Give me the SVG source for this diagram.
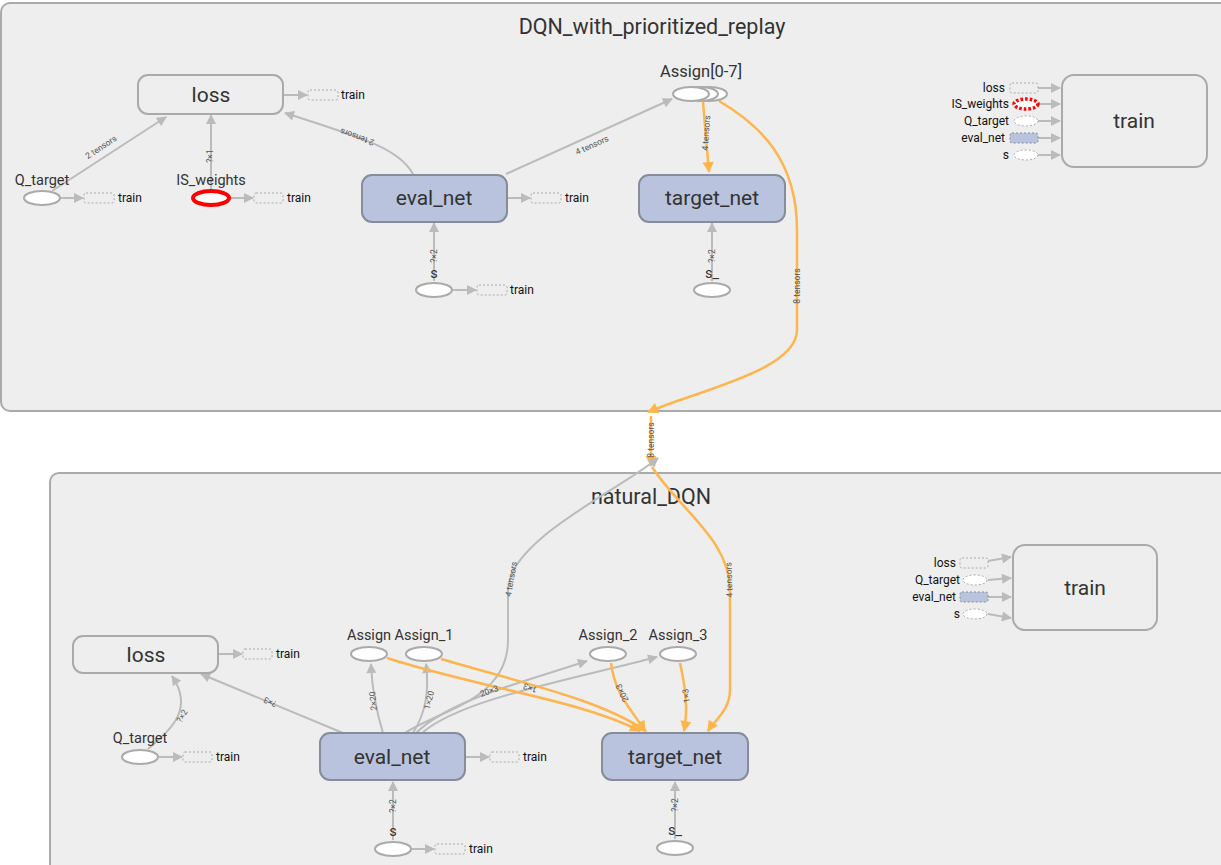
<svg xmlns="http://www.w3.org/2000/svg" width="1221" height="865" viewBox="0 0 1221 865">
<defs>
<style>
text{font-family:Roboto,"Liberation Sans",sans-serif;fill:#333}
.title{font-size:21.5px;text-anchor:middle}
.big{font-size:21px;text-anchor:middle;dominant-baseline:central}
.lbl{font-size:14.5px;text-anchor:middle}
.tr{font-size:12px;fill:#111;dominant-baseline:central}
.in{font-size:12px;fill:#111;text-anchor:end;dominant-baseline:central}
.el{font-size:8.5px;fill:#555;text-anchor:middle;dominant-baseline:central}
.cont{fill:#eee;stroke:#aaa;stroke-width:2}
.meta{fill:#eee;stroke:#aaa;stroke-width:2}
.ns{fill:#b9c3dd;stroke:#868c9a;stroke-width:2}
.op{fill:#fff;stroke:#aaa;stroke-width:2}
.dash{fill:#eee;stroke:#aaa;stroke-width:1;stroke-dasharray:2,2}
.dashw{fill:#fff;stroke:#aaa;stroke-width:1;stroke-dasharray:2,2}
.dashb{fill:#b9c3dd;stroke:#868c9a;stroke-width:1;stroke-dasharray:2,2}
.e{fill:none;stroke:#bbb;stroke-width:2;marker-end:url(#ag)}
.o{fill:none;stroke:#fdb54e;stroke-width:2.5;marker-end:url(#ao)}
</style>
<marker id="ag" viewBox="0 0 10 10" refX="9" refY="5" markerWidth="11" markerHeight="10" markerUnits="userSpaceOnUse" orient="auto"><path d="M0,0 L10,5 L0,10 z" fill="#bbb"/></marker>
<marker id="ao" viewBox="0 0 10 10" refX="9" refY="5" markerWidth="12" markerHeight="11" markerUnits="userSpaceOnUse" orient="auto"><path d="M0,0 L10,5 L0,10 z" fill="#fdb54e"/></marker>
</defs>
<rect width="1221" height="865" fill="#fff"/>

<g id="DQN_with_prioritized_replay">
<rect class="cont" x="1" y="3" width="1240" height="408" rx="9"/>
<text class="title" x="652" y="34">DQN_with_prioritized_replay</text>
</g>
<g id="natural_DQN">
<rect class="cont" x="50" y="473" width="1200" height="420" rx="9"/>
<text class="title" x="651" y="504">natural_DQN</text>
</g>

<g id="connectors">
<path class="e" d="M52,191 L166,117"/>
<path class="e" d="M211,189 L211,115"/>
<path class="e" d="M413,174 C400,150 370,140 285,113"/>
<path class="e" d="M506,174 L672,99"/>
<path class="e" d="M434,281 L434,223"/>
<path class="e" d="M712,281 L712,223"/>
<path class="e" d="M61,198 L83,198"/>
<path class="e" d="M230,198 L253,198"/>
<path class="e" d="M284,95 L307,95"/>
<path class="e" d="M507,198 L530,198"/>
<path class="e" d="M453,290 L476,290"/>
<path class="o" d="M703,102 L709,172"/>
<path class="o" d="M719,101 C760,125 797,160 797,230 L797,330 C797,370 700,390 648,412"/>
<path class="o" d="M651,416 L651,466"/>
<path class="e" d="M1038,88 L1060,88"/>
<path class="e" d="M1038,104 L1060,104"/>
<path class="e" d="M1038,121 L1060,121"/>
<path class="e" d="M1038,138 L1060,138"/>
<path class="e" d="M1038,155 L1060,155"/>
<path class="e" d="M219,654 L242,654"/>
<path class="e" d="M159,757 L182,757"/>
<path class="e" d="M466,757 L489,757"/>
<path class="e" d="M412,849 L434,849"/>
<path class="e" d="M148,749 C170,730 195,710 172,676"/>
<path class="e" d="M343,733 L201,674"/>
<path class="e" d="M393,840 L393,782"/>
<path class="e" d="M675,839 L675,782"/>
<path class="e" d="M383,733 C376,710 372,690 371,664"/>
<path class="e" d="M413,733 C424,716 430,695 426,664"/>
<path class="e" d="M416,733 C450,700 520,683 587,661"/>
<path class="e" d="M422,733 C460,700 560,682 657,657"/>
<path class="e" d="M405,733 C440,710 508,700 508,640 L508,590 C508,540 620,490 658,458"/>
<path class="o" d="M387,658 C480,688 580,700 640,731"/>
<path class="o" d="M441,659 C530,685 600,700 646,731"/>
<path class="o" d="M611,663 C615,695 632,710 645,731"/>
<path class="o" d="M680,663 C686,690 688,710 684,731"/>
<path class="o" d="M652,467 C680,510 730,540 730,590 L730,690 C730,710 715,720 708,731"/>
<path class="e" d="M988,561 L1011,557"/>
<path class="e" d="M988,580 L1011,578"/>
<path class="e" d="M988,597 L1011,597"/>
<path class="e" d="M988,614 L1011,618"/>
<text class="el" transform="translate(101,147) rotate(-33)">2 tensors</text>
<text class="el" transform="translate(210,156) rotate(-90)">?×1</text>
<text class="el" transform="translate(357,137) rotate(200)">2 tensors</text>
<text class="el" transform="translate(592,145) rotate(-24)">4 tensors</text>
<text class="el" transform="translate(706,133) rotate(-86)">4 tensors</text>
<text class="el" transform="translate(434,256) rotate(-90)">?×2</text>
<text class="el" transform="translate(712,256) rotate(-90)">?×2</text>
<text class="el" transform="translate(797,286) rotate(-90)">8 tensors</text>
<text class="el" transform="translate(651,440) rotate(-90)">8 tensors</text>
<text class="el" transform="translate(182,716) rotate(-60)">?×2</text>
<text class="el" transform="translate(270,702) rotate(203)">?×3</text>
<text class="el" transform="translate(373,701) rotate(-95)">2×20</text>
<text class="el" transform="translate(429,700) rotate(-75)">1×20</text>
<text class="el" transform="translate(393,806) rotate(-90)">?×2</text>
<text class="el" transform="translate(675,805) rotate(-90)">?×2</text>
<text class="el" transform="translate(489,691) rotate(-20)">20×3</text>
<text class="el" transform="translate(530,688) rotate(200)">1×3</text>
<text class="el" transform="translate(622,693) rotate(-115)">20×3</text>
<text class="el" transform="translate(686,696) rotate(-98)">1×3</text>
<text class="el" transform="translate(511,579) rotate(-80)">4 tensors</text>
<text class="el" transform="translate(729,580) rotate(-92)">4 tensors</text>
</g>

<g id="top_loss">
<rect class="meta" x="138" y="75" width="145" height="39" rx="10"/>
<text class="big" x="211" y="95">loss</text>
<rect class="dash" x="308" y="90" width="30" height="10" rx="2"/>
<text class="tr" x="341" y="95">train</text>
</g>
<g id="top_Q_target">
<ellipse class="op" cx="42" cy="198" rx="18" ry="7"/>
<text class="lbl" x="42" y="185">Q_target</text>
<rect class="dash" x="84" y="193" width="30" height="10" rx="2"/>
<text class="tr" x="118" y="198">train</text>
</g>
<g id="top_IS_weights">
<ellipse cx="211" cy="198" rx="18" ry="7" fill="#fff" stroke="#f00" stroke-width="4"/>
<text class="lbl" x="211" y="185">IS_weights</text>
<rect class="dash" x="254" y="193" width="29" height="10" rx="2"/>
<text class="tr" x="287" y="198">train</text>
</g>
<g id="top_eval_net">
<rect class="ns" x="362" y="175" width="145" height="47" rx="10"/>
<text class="big" x="434" y="198">eval_net</text>
<rect class="dash" x="531" y="193" width="30" height="10" rx="2"/>
<text class="tr" x="565" y="198">train</text>
</g>
<g id="top_s">
<ellipse class="op" cx="434" cy="290" rx="18" ry="7"/>
<text class="lbl" x="434" y="278">s</text>
<rect class="dash" x="477" y="285" width="30" height="10" rx="2"/>
<text class="tr" x="510" y="290">train</text>
</g>
<g id="top_Assign">
<ellipse class="op" cx="709" cy="94" rx="18" ry="7"/>
<ellipse class="op" cx="700" cy="94" rx="18" ry="7"/>
<ellipse class="op" cx="691" cy="94" rx="18" ry="7"/>
<text class="lbl" x="701" y="77" style="font-size:16.5px">Assign[0-7]</text>
</g>
<g id="top_target_net">
<rect class="ns" x="639" y="175" width="146" height="47" rx="10"/>
<text class="big" x="712" y="198">target_net</text>
</g>
<g id="top_s_">
<ellipse class="op" cx="712" cy="290" rx="18" ry="7"/>
<text class="lbl" x="712" y="278">s_</text>
</g>
<g id="top_train">
<rect class="meta" x="1062" y="75" width="145" height="92" rx="12"/>
<text class="big" x="1134" y="121">train</text>
<text class="in" x="1005" y="88">loss</text>
<rect class="dash" x="1010" y="83" width="28" height="10" rx="2"/>
<text class="in" x="1009" y="104">IS_weights</text>
<ellipse cx="1026" cy="104" rx="12" ry="5" fill="#fff" stroke="#f00" stroke-width="3.5" stroke-dasharray="2.5,2"/>
<text class="in" x="1009" y="121">Q_target</text>
<ellipse class="dashw" cx="1026" cy="121" rx="12" ry="5"/>
<text class="in" x="1005" y="138">eval_net</text>
<rect class="dashb" x="1010" y="133" width="28" height="10" rx="2"/>
<text class="in" x="1009" y="155">s</text>
<ellipse class="dashw" cx="1026" cy="155" rx="12" ry="5"/>
</g>

<g id="bot_loss">
<rect class="meta" x="73" y="636" width="145" height="37" rx="10"/>
<text class="big" x="146" y="655">loss</text>
<rect class="dash" x="243" y="649" width="29" height="10" rx="2"/>
<text class="tr" x="276" y="654">train</text>
</g>
<g id="bot_Q_target">
<ellipse class="op" cx="140" cy="757" rx="18" ry="7"/>
<text class="lbl" x="140" y="743">Q_target</text>
<rect class="dash" x="183" y="752" width="29" height="10" rx="2"/>
<text class="tr" x="216" y="757">train</text>
</g>
<g id="bot_eval_net">
<rect class="ns" x="320" y="733" width="145" height="47" rx="10"/>
<text class="big" x="392" y="757">eval_net</text>
<rect class="dash" x="490" y="752" width="29" height="10" rx="2"/>
<text class="tr" x="523" y="757">train</text>
</g>
<g id="bot_s">
<ellipse class="op" cx="393" cy="849" rx="18" ry="7"/>
<text class="lbl" x="393" y="836">s</text>
<rect class="dash" x="435" y="844" width="30" height="10" rx="2"/>
<text class="tr" x="469" y="849">train</text>
</g>
<g id="bot_Assign">
<ellipse class="op" cx="369" cy="654" rx="18" ry="7"/>
<text class="lbl" x="369" y="640">Assign</text>
</g>
<g id="bot_Assign_1">
<ellipse class="op" cx="424" cy="654" rx="18" ry="7"/>
<text class="lbl" x="424" y="640">Assign_1</text>
</g>
<g id="bot_Assign_2">
<ellipse class="op" cx="608" cy="654" rx="18" ry="7"/>
<text class="lbl" x="608" y="640">Assign_2</text>
</g>
<g id="bot_Assign_3">
<ellipse class="op" cx="678" cy="654" rx="18" ry="7"/>
<text class="lbl" x="678" y="640">Assign_3</text>
</g>
<g id="bot_target_net">
<rect class="ns" x="602" y="733" width="146" height="47" rx="10"/>
<text class="big" x="675" y="757">target_net</text>
</g>
<g id="bot_s_">
<ellipse class="op" cx="675" cy="848" rx="18" ry="7"/>
<text class="lbl" x="675" y="835">s_</text>
</g>
<g id="bot_train">
<rect class="meta" x="1013" y="545" width="144" height="85" rx="12"/>
<text class="big" x="1085" y="588">train</text>
<text class="in" x="956" y="563">loss</text>
<rect class="dash" x="960" y="558" width="28" height="10" rx="2"/>
<text class="in" x="960" y="580">Q_target</text>
<ellipse class="dashw" cx="975" cy="580" rx="12" ry="5"/>
<text class="in" x="956" y="597">eval_net</text>
<rect class="dashb" x="960" y="592" width="28" height="10" rx="2"/>
<text class="in" x="960" y="614">s</text>
<ellipse class="dashw" cx="975" cy="614" rx="12" ry="5"/>
</g>
</svg>
